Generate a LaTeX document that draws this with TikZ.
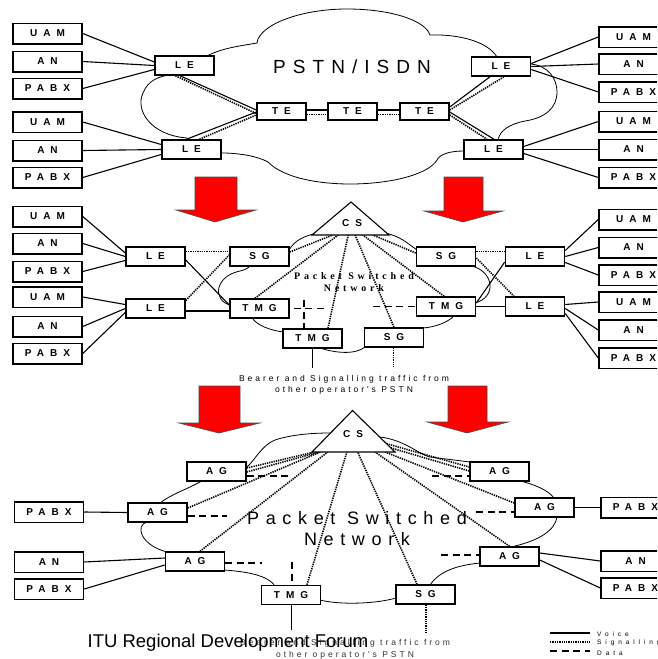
\documentclass[tikz,border=0pt]{standalone}
\usepackage{fontspec}
\setmainfont{Liberation Sans}
\newfontfamily\boxfont[LetterSpace=60]{Liberation Sans}
\newfontfamily\bigfont[LetterSpace=37]{Liberation Sans}
\newfontfamily\pktfont[LetterSpace=38]{Liberation Serif}
\newfontfamily\smallfont[LetterSpace=35]{Liberation Sans}
\newfontfamily\legfont[LetterSpace=60]{Liberation Sans}
\usetikzlibrary{calc}
\begin{document}
\begin{tikzpicture}[x=1pt,y=-1pt,
  sbox/.style={draw,fill=white,line width=1.5pt,minimum width=69pt,minimum height=20.5pt,inner sep=0pt,font=\boxfont\bfseries\fontsize{10}{12}\selectfont},
  ibox/.style={sbox,minimum width=59pt,minimum height=19pt},
  tbox/.style={sbox,minimum width=49pt,minimum height=17pt},
  voice/.style={line width=1.1pt},
  sig/.style={line width=1.6pt,dash pattern=on 1.3pt off 1pt},
  data/.style={line width=1.6pt,dash pattern=on 7pt off 4.5pt},
  cloud/.style={line width=0.8pt},
  redarrow/.style={fill=red,draw=black!70,line width=0.6pt},
  small/.style={font=\smallfont\fontsize{8.5}{10}\selectfont,inner sep=0pt},
  legend/.style={font=\legfont\fontsize{6.5}{8}\selectfont,inner sep=0pt,anchor=west},
]
\useasboundingbox (0,0) rectangle (657,659);
\fill[white] (0,0) rectangle (657,659);
\clip (0,0) rectangle (657,659);

% ---------------- top section ----------------
\node[ibox] (tLE1) at (184.5,65.5) {LE};
\node[ibox] (tLE2) at (191.5,149.5) {LE};
\node[ibox] (tLE3) at (501,66.5) {LE};
\node[ibox] (tLE4) at (493.5,149.5) {LE};
\node[tbox] (tTE1) at (281.5,111.5) {TE};
\node[tbox] (tTE2) at (352.5,111.5) {TE};
\node[tbox] (tTE3) at (424.5,111.5) {TE};

\draw[cloud] (tLE1.center) -- (207,56)
  .. controls (222,48) and (240,46) .. (257,43)
  .. controls (259,25) and (300,9) .. (347,9)
  .. controls (390,9) and (425,20) .. (430,35)
  .. controls (460,34) and (488,42) .. (497,57)
  -- (tLE3.center) -- (531,64)
  .. controls (548,66) and (557,78) .. (557,92)
  .. controls (557,108) and (545,118) .. (525,121)
  .. controls (510,124) and (500,130) .. (498,140)
  -- (tLE4.center) -- (464,151)
  .. controls (450,151) and (440,154) .. (437,160)
  .. controls (420,188) and (300,195) .. (268,162)
  .. controls (255,155) and (235,153) .. (222,153)
  -- (tLE2.center) -- (187,138)
  .. controls (150,135) and (135,110) .. (143,93)
  .. controls (148,80) and (160,76) .. (170,75) -- cycle;

\node[font=\bigfont\fontsize{19}{22}\selectfont,inner sep=0pt] (tPSTN) at (352,67) {PSTN/ISDN};

\node[sbox] (tLU1) at (47.5,33.5) {UAM};
\node[sbox] (tLA1) at (47.5,61.5) {AN};
\node[sbox] (tLP1) at (47.5,88.5) {PABX};
\node[sbox] (tLU2) at (47.5,122) {UAM};
\node[sbox] (tLA2) at (47.5,150.5) {AN};
\node[sbox] (tLP2) at (47.5,177.5) {PABX};
\node[sbox] (tRU1) at (633.5,37) {UAM};
\node[sbox] (tRA1) at (633.5,64) {AN};
\node[sbox] (tRP1) at (633.5,92) {PABX};
\node[sbox] (tRU2) at (633.5,121.5) {UAM};
\node[sbox] (tRA2) at (633.5,149.5) {AN};
\node[sbox] (tRP2) at (633.5,177.5) {PABX};

\draw[voice] (tLU1.east) -- ([yshift=3.5pt]tLE1.west);
\draw[voice] (tLA1.east) -- (tLE1.west);
\draw[voice] (tLP1.east) -- ([yshift=-4pt]tLE1.west);
\draw[voice] (tLU2.east) -- ([yshift=5pt]tLE2.west);
\draw[voice] (tLA2.east) -- (tLE2.west);
\draw[voice] (tLP2.east) -- ([yshift=-5pt]tLE2.west);
\draw[voice] ([yshift=3pt]tLE3.east) -- (tRU1.west);
\draw[voice] (tLE3.east) -- (tRA1.west);
\draw[voice] ([yshift=-3pt]tLE3.east) -- (tRP1.west);
\draw[voice] ([yshift=3pt]tLE4.east) -- (tRU2.west);
\draw[voice] (tLE4.east) -- (tRA2.west);
\draw[voice] ([yshift=-4pt]tLE4.east) -- (tRP2.west);

\draw[voice] ([xshift=-4.5pt]tLE1.south) -- ([yshift=1.5pt]tTE1.west);
\draw[sig] ([xshift=-9pt]tLE1.south) -- ([yshift=-2pt]tTE1.west);
\draw[voice] ([xshift=-5pt]tLE2.north) -- ([yshift=-0.5pt]tTE1.west);
\draw[sig] ([xshift=8pt]tLE2.north) -- ([yshift=-3.5pt]tTE1.west);
\draw[voice] ([yshift=1.5pt]tTE1.east) -- ([yshift=1.5pt]tTE2.west);
\draw[sig] ([yshift=-3pt]tTE1.east) -- ([yshift=-3pt]tTE2.west);
\draw[voice] ([yshift=1.5pt]tTE2.east) -- ([yshift=1.5pt]tTE3.west);
\draw[sig] ([yshift=-3pt]tTE2.east) -- ([yshift=-3pt]tTE3.west);
\draw[voice] ([yshift=4.5pt]tTE3.east) -- ([xshift=-11pt]tLE3.south);
\draw[sig] ([yshift=1.5pt]tTE3.east) -- ([xshift=3pt]tLE3.south);
\draw[voice] ([yshift=-0.5pt]tTE3.east) -- ([xshift=0.5pt]tLE4.north);
\draw[sig] ([yshift=-3.5pt]tTE3.east) -- ([xshift=-6.5pt]tLE4.north);

% redraw top boxes over lines
\node[ibox] at (tLE1) {LE};
\node[ibox] at (tLE2) {LE};
\node[ibox] at (tLE3) {LE};
\node[ibox] at (tLE4) {LE};
\node[tbox] at (tTE1) {TE};
\node[tbox] at (tTE2) {TE};
\node[tbox] at (tTE3) {TE};

% arrows
\draw[redarrow] (195,177) -- (237,177) -- (237,210) -- (256,210) -- (215,222) -- (176,210) -- (195,210) -- cycle;
\draw[redarrow] (444,177) -- (483,177) -- (483,211) -- (503,211) -- (463,222) -- (424,211) -- (444,211) -- cycle;
\draw[redarrow] (199,386) -- (240,386) -- (240,423) -- (260,423) -- (219,433) -- (179,423) -- (199,423) -- cycle;
\draw[redarrow] (448,386) -- (487,386) -- (487,422) -- (508,422) -- (467,433) -- (427,422) -- (448,422) -- cycle;

% ---------------- middle section ----------------
\coordinate (m1T) at (351,202);
\coordinate (m1L) at (312,235);
\coordinate (m1R) at (389,235);

\node[ibox] (mLE1) at (155.5,256.5) {LE};
\node[ibox] (mLE2) at (155.5,308.5) {LE};
\node[ibox] (mSG1) at (259.5,256.5) {SG};
\node[ibox] (mTMG1) at (259.5,308.5) {TMG};
\node[ibox] (mTMG2) at (312.5,338.5) {TMG};
\node[ibox] (mSG2) at (394,337.5) {SG};
\node[ibox] (mSG3) at (446,256.5) {SG};
\node[ibox] (mTMG3) at (446,306.5) {TMG};
\node[ibox] (mLE3) at (535,256.5) {LE};
\node[ibox] (mLE4) at (535,306.5) {LE};

\draw[cloud] (mSG1.center) -- (289,250)
  .. controls (295,240) and (305,235) .. (320,233) -- (385,233)
  .. controls (400,236) and (407,243) .. (417,250)
  -- (mSG3.center) -- (472,266)
  .. controls (494,272) and (497,297) .. (475,303)
  -- (mTMG3.center) -- (454,316)
  .. controls (448,322) and (436,327) .. (423,328)
  -- (mSG2.center) -- (365,347)
  .. controls (355,355) and (335,353) .. (320,348)
  -- (mTMG2.center) -- (283,332)
  .. controls (270,330) and (258,326) .. (252,318)
  -- (mTMG1.center) -- (230,305)
  .. controls (212,300) and (215,276) .. (240,271)
  .. controls (245,270) and (248,268) .. (250,266) -- cycle;

\node[font=\pktfont\bfseries\fontsize{10}{12.5}\selectfont,align=center,inner sep=0pt] (mPSN) at (354,282) {Packet Switched\\Network};

\node[sbox] (mLU1) at (47.5,216.5) {UAM};
\node[sbox] (mLA1) at (47.5,243.5) {AN};
\node[sbox] (mLP1) at (47.5,271.5) {PABX};
\node[sbox] (mLU2) at (47.5,297) {UAM};
\node[sbox] (mLA2) at (47.5,326.5) {AN};
\node[sbox] (mLP2) at (47.5,353.5) {PABX};
\node[sbox] (mRU1) at (633.5,219.5) {UAM};
\node[sbox] (mRA1) at (633.5,247.5) {AN};
\node[sbox] (mRP1) at (633.5,275) {PABX};
\node[sbox] (mRU2) at (633.5,302) {UAM};
\node[sbox] (mRA2) at (633.5,330) {AN};
\node[sbox] (mRP2) at (633.5,358) {PABX};

\draw[voice] (mLU1.east) -- ([yshift=3.5pt]mLE1.west);
\draw[voice] (mLA1.east) -- (mLE1.west);
\draw[voice] (mLP1.east) -- ([yshift=-4pt]mLE1.west);
\draw[voice] (mLU2.east) -- ([yshift=4pt]mLE2.west);
\draw[voice] (mLA2.east) -- (mLE2.west);
\draw[voice] (mLP2.east) -- ([yshift=-4pt]mLE2.west);
\draw[sig] ([yshift=5pt]mLE1.east) -- ([yshift=5pt]mSG1.west);
\draw[voice] ([yshift=-3.5pt]mLE1.east) -- ([yshift=3.5pt]mTMG1.west);
\draw[sig] ([yshift=8pt]mLE2.east) -- ([yshift=1.5pt]mSG1.west);
\draw[voice] ([yshift=-2.5pt]mLE2.east) -- ([yshift=-2.5pt]mTMG1.west);
\draw[sig] ([yshift=4.5pt]mSG1.east) -- ($(m1L)!0.27!(m1R)$);
\draw[sig] ([xshift=-4.5pt]mTMG1.north) -- ($(m1L)!0.34!(m1R)$);
\draw[sig] ([xshift=15.5pt]mTMG2.north) -- ($(m1L)!0.47!(m1R)$);
\draw[sig] (mSG2.north) -- ($(m1L)!0.56!(m1R)$);
\draw[sig] ([xshift=-2pt]mTMG3.north) -- ($(m1L)!0.66!(m1R)$);
\draw[sig] ([yshift=3.5pt]mSG3.west) -- ($(m1L)!0.79!(m1R)$);
\coordinate (mD1) at (326,308.5);
\draw[data] ([xshift=4pt]mTMG1.east) -- (mD1);
\coordinate (mD2) at (304,300);
\draw[data] (mD2) -- (mTMG2.north -| mD2);
\coordinate (mD3) at (373,306.5);
\draw[data] (mD3) -- (mTMG3.west);
\draw[sig] ([yshift=5pt]mSG3.east) -- ([yshift=5pt]mLE3.west);
\draw[sig] ([yshift=-1.5pt]mSG3.east) -- ([xshift=-21pt]mLE4.north);
\draw[voice] ([yshift=3.5pt]mTMG3.east) -- ([yshift=-5.5pt]mLE3.west);
\draw[voice] (mTMG3.east) -- (mLE4.west);
\draw[voice] ([yshift=6pt]mLE3.east) -- (mRU1.west);
\draw[voice] (mLE3.east) -- (mRA1.west);
\draw[voice] ([yshift=-6pt]mLE3.east) -- (mRP1.west);
\draw[voice] ([yshift=2pt]mLE4.east) -- (mRU2.west);
\draw[voice] ([yshift=-2pt]mLE4.east) -- (mRA2.west);
\draw[voice] ([yshift=-7pt]mLE4.east) -- (mRP2.west);
\coordinate (mV1) at (312.5,368);
\draw[voice] (mTMG2.south) -- (mV1);
\coordinate (mV2) at (393.5,368);
\draw[sig] (mSG2.south -| mV2) -- (mV2);

\node[ibox] at (mLE1) {LE};
\node[ibox] at (mLE2) {LE};
\node[ibox] at (mSG1) {SG};
\node[ibox] at (mTMG1) {TMG};
\node[ibox] at (mTMG2) {TMG};
\node[ibox] at (mSG2) {SG};
\node[ibox] at (mSG3) {SG};
\node[ibox] at (mTMG3) {TMG};
\node[ibox] at (mLE3) {LE};
\node[ibox] at (mLE4) {LE};
\draw[fill=white,line width=1.1pt] (m1T) -- (m1R) -- (m1L) -- cycle;
\node[font=\boxfont\bfseries\fontsize{10}{12}\selectfont,inner sep=0pt] (mCS) at (352,223) {CS};

\node[small] (mBear1) at (344,379.5) {Bearer and Signalling traffic from};
\node[small] (mBear2) at (344,390.5) {other operator's PSTN};

% ---------------- bottom section ----------------
\coordinate (b2T) at (352.5,410.5);
\coordinate (b2L) at (312,452);
\coordinate (b2R) at (395,452);

\node[ibox] (bAG1) at (216.5,471.5) {AG};
\node[ibox] (bAG2) at (157.5,512.5) {AG};
\node[ibox] (bAG3) at (195,561.5) {AG};
\node[ibox] (bTMG) at (291,595) {TMG};
\node[ibox] (bSG) at (425.5,594.5) {SG};
\node[ibox] (bAG4) at (499.5,471.5) {AG};
\node[ibox] (bAG5) at (544.5,507.5) {AG};
\node[ibox] (bAG6) at (509.5,556.5) {AG};

\draw[cloud] (bAG1.center) -- (247,467)
  .. controls (255,460) and (262,445) .. (275,440)
  .. controls (290,435) and (310,433) .. (330,433) -- (380,437)
  .. controls (405,440) and (420,455) .. (430,457)
  -- (470,462) -- (bAG4.center) -- (524,482)
  .. controls (535,485) and (548,490) .. (554,498)
  -- (bAG5.center) -- (557,517)
  .. controls (555,530) and (540,540) .. (515,546)
  -- (bAG6.center) -- (480,563)
  .. controls (460,565) and (440,570) .. (430,585)
  -- (bSG.center) -- (396,598)
  .. controls (375,604) and (340,605) .. (320,600)
  -- (bTMG.center) -- (275,586)
  .. controls (270,578) and (255,572) .. (224,570)
  -- (bAG3.center) -- (167,552)
  .. controls (140,545) and (135,525) .. (147,522)
  -- (bAG2.center) -- (160,503)
  .. controls (170,495) and (185,490) .. (200,482) -- cycle;

\node[font=\bigfont\fontsize{18}{21}\selectfont,inner sep=0pt] (bPSN1) at (357,518) {Packet Switched};
\node[font=\bigfont\fontsize{18}{21}\selectfont,inner sep=0pt] (bPSN2) at (357,539) {Network};

\node[sbox] (bLP1) at (49,512) {PABX};
\node[sbox] (bLA) at (49,562) {AN};
\node[sbox] (bLP2) at (49,589) {PABX};
\node[sbox] (bRP1) at (635.5,507.5) {PABX};
\node[sbox] (bRA) at (635.5,561) {AN};
\node[sbox] (bRP2) at (635.5,588) {PABX};

\draw[voice] (bLP1.east) -- (bAG2.west);
\draw[voice] (bLA.east) -- ([yshift=3.5pt]bAG3.west);
\draw[voice] (bLP2.east) -- ([yshift=-3.5pt]bAG3.west);
\draw[sig] ([yshift=3.5pt]bAG1.east) -- ($(b2L)!0.03!(b2R)$);
\draw[sig] ([yshift=-0.5pt]bAG1.east) -- ($(b2L)!0.09!(b2R)$);
\draw[sig] ([yshift=4.5pt]bAG2.east) -- ($(b2L)!0.1!(b2R)$);
\draw[sig] ([xshift=5pt]bAG3.north) -- ($(b2L)!0.19!(b2R)$);
\draw[sig] ([xshift=16pt]bTMG.north) -- ($(b2L)!0.42!(b2R)$);
\draw[sig] ([xshift=-8.5pt]bSG.north) -- ($(b2L)!0.55!(b2R)$);
\draw[sig] (bAG6.north) -- ($(b2L)!0.76!(b2R)$);
\draw[sig] ([yshift=4.5pt]bAG5.west) -- ($(b2L)!0.88!(b2R)$);
\draw[sig] ($(b2T)!0.8!(b2R)$) -- ([yshift=4.5pt]bAG4.west);
\draw[sig] ($(b2T)!0.9!(b2R)$) -- ([yshift=0.5pt]bAG4.west);
\coordinate (bD1) at (290,476);
\draw[data] (bAG1.east |- bD1) -- (bD1);
\coordinate (bD2) at (227,516);
\draw[data] (bAG2.east |- bD2) -- (bD2);
\coordinate (bD3) at (262,563);
\draw[data] (bAG3.east |- bD3) -- (bD3);
\coordinate (bD4) at (292,562);
\draw[data] (bD4) -- (bD4 |- bTMG.north);
\coordinate (bD5) at (432,476);
\draw[data] (bD5) -- (bD5 -| bAG4.west);
\coordinate (bD6) at (476,512);
\draw[data] (bD6) -- (bD6 -| bAG5.west);
\coordinate (bD7) at (441,555);
\draw[data] (bD7) -- (bD7 -| bAG6.west);
\draw[voice] (bAG5.east) -- (bRP1.west);
\draw[voice] ([yshift=3.5pt]bAG6.east) -- (bRA.west);
\draw[voice] ([yshift=-3.5pt]bAG6.east) -- (bRP2.west);
\coordinate (bV1) at (291.5,630);
\draw[voice] (bTMG.south -| bV1) -- (bV1);
\coordinate (bV2) at (426,633);
\draw[sig] (bSG.south -| bV2) -- (bV2);

\node[ibox] at (bAG1) {AG};
\node[ibox] at (bAG2) {AG};
\node[ibox] at (bAG3) {AG};
\node[ibox] at (bTMG) {TMG};
\node[ibox] at (bSG) {SG};
\node[ibox] at (bAG4) {AG};
\node[ibox] at (bAG5) {AG};
\node[ibox] at (bAG6) {AG};
\draw[fill=white,line width=1.1pt] (b2T) -- (b2R) -- (b2L) -- cycle;
\node[font=\boxfont\bfseries\fontsize{10}{12}\selectfont,inner sep=0pt] (bCS) at (353,434) {CS};

\node[small,text=black!80] (bBear1) at (345,643) {Bearer and Signalling traffic from};
\node[small,text=black!80] (bBear2) at (345,655.5) {other operator's PSTN};
\node[font=\fontsize{18.5}{21}\selectfont,inner sep=0pt] (itu) at (228,643) {ITU Regional Development Forum};

% legend
\coordinate (lg1a) at (550,633); \coordinate (lg1b) at (590,633);
\coordinate (lg2a) at (550,642); \coordinate (lg2b) at (590,642);
\coordinate (lg3a) at (550,651); \coordinate (lg3b) at (590,651);
\draw[voice] (lg1a) -- (lg1b);
\draw[sig] (lg2a) -- (lg2b);
\draw[data] (lg3a) -- (lg3b);
\node[legend] (lgV) at (597,634) {Voice};
\node[legend] (lgS) at (597,643) {Signalling};
\node[legend] (lgD) at (597,653) {Data};
\end{tikzpicture}
\end{document}
